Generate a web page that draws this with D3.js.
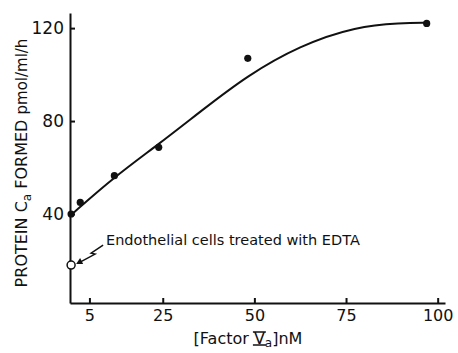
<!DOCTYPE html>
<html>
<head>
<meta charset="utf-8">
<script src="https://cdn.jsdelivr.net/npm/d3@7"></script>
<style>
  body { margin: 0; background: #fff; }
  text { font-family: "DejaVu Sans", Arial, sans-serif; fill: #111; }
</style>
</head>
<body>
<div id="chart"></div>
<script>
var width = 458, height = 353

// measured points
var factorVa = [0, 2.5, 11.8, 23.9, 48.2, 97]
var proteinCa = [40, 45, 56.5, 68.7, 107, 122]
// EDTA-treated cells
var edtaX = [0]
var edtaY = [18]
// hand-drawn curve through the data
var curveX = [0, 11.8, 23.9, 36, 48, 62.3, 77.9, 90, 97]
var curveY = [39.6, 56, 70, 85, 99.5, 112.5, 120.8, 122.2, 122.3]
var xTicks = [5, 25, 50, 75, 100]
var yTicks = [40, 80, 120]

let svg = d3.select("div#chart").append("svg").attr("width", width).attr("height", height)

var x = d3.scaleLinear().domain([-0.3, 102]).range([70, 445])
var y = d3.scaleLinear().domain([1.7, 126.5]).range([303, 13])

var xAxis = svg.append("g").attr("transform", "translate(0,303)")
    .call(d3.axisBottom(x).tickValues(xTicks).tickSizeInner(-5).tickSizeOuter(0).tickPadding(7))
var yAxis = svg.append("g").attr("transform", "translate(70,0)")
    .call(d3.axisLeft(y).tickValues(yTicks).tickSizeInner(-5).tickSizeOuter(0).tickPadding(6))

svg.selectAll(".domain, .tick line").attr("stroke", "#111").attr("stroke-width", 2)
xAxis.selectAll("text").style("font-size", "16px").attr("fill", "#111")
yAxis.selectAll("text").style("font-size", "17px").attr("fill", "#111")

// curve
var pts = curveX.map((d, i) => [d, curveY[i]])
svg.append("path").datum(pts)
    .attr("fill", "none").attr("stroke", "#111").attr("stroke-width", 2)
    .attr("d", d3.line().x(d => x(d[0])).y(d => y(d[1])).curve(d3.curveBasis))

svg.selectAll(".dot").data(factorVa).join("circle").attr("class", "dot")
    .attr("cx", d => x(d)).attr("cy", (d, i) => y(proteinCa[i])).attr("r", 3.6)
    .attr("fill", "#111")

svg.selectAll(".open").data(edtaX).join("circle").attr("class", "open")
    .attr("cx", d => x(d)).attr("cy", (d, i) => y(edtaY[i])).attr("r", 4)
    .attr("fill", "#fff").attr("stroke", "#111").attr("stroke-width", 1.5)

// annotation with zigzag arrow
var ax = x(edtaX[0]), ay = y(edtaY[0])
svg.append("path")
    .attr("d", `M${ax + 32},${ay - 20} L${ax + 20},${ay - 12} L${ax + 24},${ay - 11} L${ax + 9},${ay - 3}`)
    .attr("fill", "none").attr("stroke", "#111").attr("stroke-width", 1.5)
svg.append("path")
    .attr("d", `M${ax + 5},${ay - 1} L${ax + 12},${ay - 1} L${ax + 9},${ay - 7} Z`)
    .attr("fill", "#111")
svg.append("text").attr("x", 106).attr("y", ay - 20)
    .style("font-size", "14.5px").text("Endothelial cells treated with EDTA")

// axis titles
var yt = svg.append("text").attr("transform", "translate(27,163) rotate(-90)")
    .attr("text-anchor", "middle").style("font-size", "16px")
yt.append("tspan").text("PROTEIN C")
yt.append("tspan").text("a").attr("dy", 4).style("font-size", "12px")
yt.append("tspan").text(" FORMED ").attr("dy", -4)
yt.append("tspan").text("pmol/ml/h").style("font-size", "15px")

var xt = svg.append("text").attr("x", 248).attr("y", 344)
    .attr("text-anchor", "middle").style("font-size", "16px")
xt.append("tspan").text("[Factor ")
xt.append("tspan").text("V")
xt.append("tspan").text("a").attr("dy", 3).style("font-size", "12px")
xt.append("tspan").text("]nM").attr("dy", -3)

// bars over and under the roman numeral V
var ext = xt.node().getExtentOfChar(8)
svg.append("line").attr("x1", ext.x - 1).attr("x2", ext.x + ext.width + 1)
    .attr("y1", ext.y + 3).attr("y2", ext.y + 3).attr("stroke", "#111").attr("stroke-width", 1.5)
svg.append("line").attr("x1", ext.x - 1).attr("x2", ext.x + ext.width + 1)
    .attr("y1", ext.y + ext.height - 3).attr("y2", ext.y + ext.height - 3).attr("stroke", "#111").attr("stroke-width", 1.5)
</script>
</body>
</html>
